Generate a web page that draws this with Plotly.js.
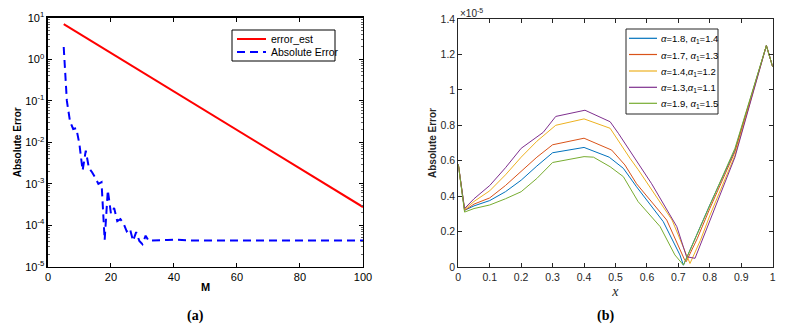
<!DOCTYPE html>
<html>
<head>
<meta charset="utf-8">
<script src="https://cdn.plot.ly/plotly-3.0.1.min.js"></script>
<style>
  html, body { margin: 0; padding: 0; background: #fff; }
  #chart { width: 785px; height: 326px; }
</style>
</head>
<body>
<div id="chart"></div>
<script>
// ---------- Panel (a) data ----------
const estM = [5, 67, 100];
const errorEst = [7.1, 9.3e-3, 2.75e-4];

const absM = [5, 6, 7, 8, 9, 10, 11, 12, 13, 14, 15, 16, 17, 18, 19, 20, 21, 22, 23, 24, 25, 26, 27, 28, 29, 30, 31, 32, 33, 35, 38, 40, 45, 50, 60, 70, 80, 90, 100];
const absErr = [2.0, 0.1, 0.032, 0.021, 0.022, 0.0089, 0.0021, 0.0063, 0.0024, 0.0019, 0.0014, 0.0010, 0.0011, 4.4e-5, 7.0e-4, 1.9e-4, 2.6e-4, 1.26e-4, 1.4e-4, 1.1e-4, 7.1e-5, 8.3e-5, 4.2e-5, 6.8e-5, 4.2e-5, 3.5e-5, 5.6e-5, 4.2e-5, 4.3e-5, 4.3e-5, 4.4e-5, 4.5e-5, 4.3e-5, 4.3e-5, 4.3e-5, 4.3e-5, 4.3e-5, 4.3e-5, 4.3e-5];

const namesA = ['error_est', 'Absolute Error'];
const colorsA = ['#FF0000', '#0000FF'];
const dashesA = ['solid', '8px,5px'];

const logTickVals = [1e-5, 1e-4, 1e-3, 1e-2, 1e-1, 1, 10];
const logTickText = ['10<sup>-5</sup>', '10<sup>-4</sup>', '10<sup>-3</sup>', '10<sup>-2</sup>', '10<sup>-1</sup>', '10<sup>0</sup>', '10<sup>1</sup>'];
const mTicks = [0, 20, 40, 60, 80, 100];

// ---------- Panel (b) data (values in units of 1e-5) ----------
const x18 = [0, 0.02, 0.05, 0.1, 0.15, 0.2, 0.25, 0.3, 0.4, 0.48, 0.525, 0.567, 0.652, 0.705, 0.716, 0.75, 0.8, 0.88, 0.98, 1.0];
const y18 = [0.58, 0.32, 0.345, 0.375, 0.425, 0.49, 0.57, 0.645, 0.675, 0.62, 0.557, 0.453, 0.256, 0.068, 0.01, 0.15, 0.35, 0.66, 1.25, 1.13];

const x17 = [0, 0.02, 0.05, 0.1, 0.15, 0.2, 0.25, 0.3, 0.4, 0.488, 0.53, 0.567, 0.663, 0.72, 0.725, 0.76, 0.8, 0.88, 0.98, 1.0];
const y17 = [0.58, 0.32, 0.355, 0.39, 0.46, 0.54, 0.62, 0.69, 0.727, 0.66, 0.576, 0.47, 0.265, 0.04, 0.03, 0.16, 0.33, 0.65, 1.25, 1.13];

const x14 = [0, 0.02, 0.05, 0.1, 0.15, 0.2, 0.25, 0.31, 0.4, 0.483, 0.546, 0.572, 0.68, 0.737, 0.77, 0.8, 0.88, 0.98, 1.0];
const y14 = [0.58, 0.325, 0.37, 0.43, 0.52, 0.62, 0.71, 0.8, 0.836, 0.783, 0.614, 0.55, 0.265, 0.02, 0.15, 0.29, 0.63, 1.25, 1.13];

const x13 = [0, 0.02, 0.05, 0.1, 0.15, 0.2, 0.27, 0.31, 0.403, 0.483, 0.509, 0.562, 0.615, 0.695, 0.726, 0.753, 0.768, 0.8, 0.88, 0.98, 1.0];
const y13 = [0.58, 0.33, 0.385, 0.46, 0.56, 0.67, 0.76, 0.85, 0.885, 0.82, 0.755, 0.615, 0.47, 0.228, 0.058, 0.049, 0.115, 0.26, 0.62, 1.25, 1.13];

const x19 = [0, 0.02, 0.05, 0.1, 0.15, 0.2, 0.25, 0.3, 0.4, 0.43, 0.483, 0.525, 0.572, 0.642, 0.689, 0.716, 0.747, 0.8, 0.88, 0.98, 1.0];
const y19 = [0.58, 0.31, 0.33, 0.35, 0.385, 0.425, 0.5, 0.59, 0.623, 0.62, 0.566, 0.51, 0.369, 0.228, 0.068, 0.011, 0.134, 0.35, 0.67, 1.25, 1.13];

const seriesNames = [
  '<i>α</i>=1.8, <i>α</i><sub>1</sub>=1.4',
  '<i>α</i>=1.7, <i>α</i><sub>1</sub>=1.3',
  '<i>α</i>=1.4,<i>α</i><sub>1</sub>=1.2',
  '<i>α</i>=1.3,<i>α</i><sub>1</sub>=1.1',
  '<i>α</i>=1.9, <i>α</i><sub>1</sub>=1.5'
];
const seriesColors = ['#0072BD', '#D95319', '#EDB120', '#7E2F8E', '#77AC30'];
const xTicksB = [0, 0.1, 0.2, 0.3, 0.4, 0.5, 0.6, 0.7, 0.8, 0.9, 1];
const yTicksB = [0, 0.2, 0.4, 0.6, 0.8, 1, 1.2, 1.4];
const yTickTextB = ['0', '0.2', '0.4', '0.6', '0.8', '1', '1.2', '1.4'];

// minor tick positions for the log axis (2..9 x 10^k)
const minorLog = [];
for (let k = -5; k < 1; k++) for (let d = 2; d <= 9; d++) minorLog.push(d * Math.pow(10, k));

const sans = 'Liberation Sans, Arial, sans-serif';
const serif = 'Liberation Serif, Times New Roman, serif';
const W = 785, H = 326;
const px = v => v / W;
const py = v => 1 - v / H;

const traces = [
  { x: estM, y: errorEst, name: namesA[0], type: 'scatter', mode: 'lines',
    line: { color: colorsA[0], width: 2 }, xaxis: 'x', yaxis: 'y', showlegend: false },
  { x: absM, y: absErr, name: namesA[1], type: 'scatter', mode: 'lines',
    line: { color: colorsA[1], width: 2, dash: dashesA[1] }, xaxis: 'x', yaxis: 'y', showlegend: false }
];
const xs = [x18, x17, x14, x13, x19];
const ys = [y18, y17, y14, y13, y19];
for (let i = 0; i < 5; i++) {
  traces.push({ x: xs[i], y: ys[i], name: seriesNames[i], type: 'scatter', mode: 'lines',
    line: { color: seriesColors[i], width: 1 }, xaxis: 'x2', yaxis: 'y2', showlegend: false });
}

// ---------- legends (drawn as boxes, sample lines and text) ----------
const shapes = [];
const annotations = [];
// legend (a)
shapes.push({ type: 'rect', xref: 'paper', yref: 'paper', x0: px(232), x1: px(335), y0: py(30), y1: py(61),
  line: { color: '#000', width: 1 }, fillcolor: '#fff', layer: 'above' });
const legAy = [39, 52];
for (let i = 0; i < 2; i++) {
  shapes.push({ type: 'line', xref: 'paper', yref: 'paper', x0: px(237), x1: px(266), y0: py(legAy[i]), y1: py(legAy[i]),
    line: { color: colorsA[i], width: 2, dash: dashesA[i] }, layer: 'above' });
  annotations.push({ text: namesA[i], xref: 'paper', yref: 'paper', x: px(269), y: py(legAy[i]),
    xanchor: 'left', yanchor: 'middle', showarrow: false, font: { size: 10.5, family: sans, color: '#000' } });
}
// legend (b)
shapes.push({ type: 'rect', xref: 'paper', yref: 'paper', x0: px(626), x1: px(718), y0: py(29), y1: py(114),
  line: { color: '#262626', width: 1 }, fillcolor: '#fff', layer: 'above' });
const legBy = [38.3, 54.5, 71, 87.3, 103.3];
for (let i = 0; i < 5; i++) {
  shapes.push({ type: 'line', xref: 'paper', yref: 'paper', x0: px(629), x1: px(657), y0: py(legBy[i]), y1: py(legBy[i]),
    line: { color: seriesColors[i], width: 1.2 }, layer: 'above' });
  annotations.push({ text: seriesNames[i], xref: 'paper', yref: 'paper', x: px(659), y: py(legBy[i] + 1),
    xanchor: 'left', yanchor: 'middle', showarrow: false, font: { size: 9.5, family: sans, color: '#000' } });
}

annotations.push(
  { text: '<b>(a)</b>', xref: 'paper', yref: 'paper', x: px(195), y: py(316),
    xanchor: 'center', yanchor: 'middle', showarrow: false, font: { size: 14, family: serif, color: '#000' } },
  { text: '<b>(b)</b>', xref: 'paper', yref: 'paper', x: px(605), y: py(316),
    xanchor: 'center', yanchor: 'middle', showarrow: false, font: { size: 14, family: serif, color: '#000' } },
  { text: '×10<sup>-5</sup>', xref: 'paper', yref: 'paper', x: px(458), y: py(13),
    xanchor: 'left', yanchor: 'middle', showarrow: false, font: { size: 10, family: sans, color: '#262626' } }
);

const layout = {
  width: W, height: H,
  margin: { l: 0, r: 0, t: 0, b: 0 },
  paper_bgcolor: '#fff', plot_bgcolor: '#fff',
  font: { family: sans, color: '#000', size: 11 },
  showlegend: false,
  xaxis: {
    domain: [0.0611, 0.4624], anchor: 'y', range: [0, 100],
    tickmode: 'array', tickvals: mTicks, ticks: 'inside', ticklen: 4, tickcolor: '#000',
    showline: true, linecolor: '#000', linewidth: 1.5, mirror: 'ticks',
    showgrid: false, zeroline: false, tickfont: { size: 11, family: sans },
    title: { text: 'M', font: { size: 11, family: sans, weight: 'bold' }, standoff: 1 }
  },
  yaxis: {
    domain: [0.1819, 0.9448], anchor: 'x', type: 'log', range: [-5, 1],
    tickmode: 'array', tickvals: logTickVals, ticktext: logTickText,
    ticks: 'inside', ticklen: 4, tickcolor: '#000',
    minor: { tickmode: 'array', tickvals: minorLog, ticks: 'inside', ticklen: 2, tickcolor: '#666', showgrid: false },
    showline: true, linecolor: '#000', linewidth: 1.5, mirror: 'ticks',
    showgrid: false, zeroline: false, tickfont: { size: 11, family: sans },
    title: { text: 'Absolute Error', font: { size: 10, family: sans, weight: 'bold' }, standoff: 1 }
  },
  xaxis2: {
    domain: [0.5838, 0.9843], anchor: 'y2', range: [0, 1],
    tickmode: 'array', tickvals: xTicksB, ticks: 'inside', ticklen: 4, tickcolor: '#262626',
    showline: true, linecolor: '#262626', linewidth: 1, mirror: 'ticks',
    showgrid: false, zeroline: false, tickfont: { size: 10.5, family: sans, color: '#262626' },
    title: { text: '<i>x</i>', font: { size: 14, family: serif, color: '#262626' }, standoff: 4 }
  },
  yaxis2: {
    domain: [0.1810, 0.9417], anchor: 'x2', range: [0, 1.4],
    tickmode: 'array', tickvals: yTicksB, ticktext: yTickTextB,
    ticks: 'inside', ticklen: 4, tickcolor: '#262626',
    showline: true, linecolor: '#262626', linewidth: 1, mirror: 'ticks',
    showgrid: false, zeroline: false, tickfont: { size: 10.5, family: sans, color: '#262626' },
    title: { text: 'Absolute Error', font: { size: 10, family: sans, weight: 'bold', color: '#262626' }, standoff: 2 }
  },
  shapes: shapes,
  annotations: annotations
};

Plotly.newPlot('chart', traces, layout, { displayModeBar: false, staticPlot: true });
</script>
</body>
</html>
